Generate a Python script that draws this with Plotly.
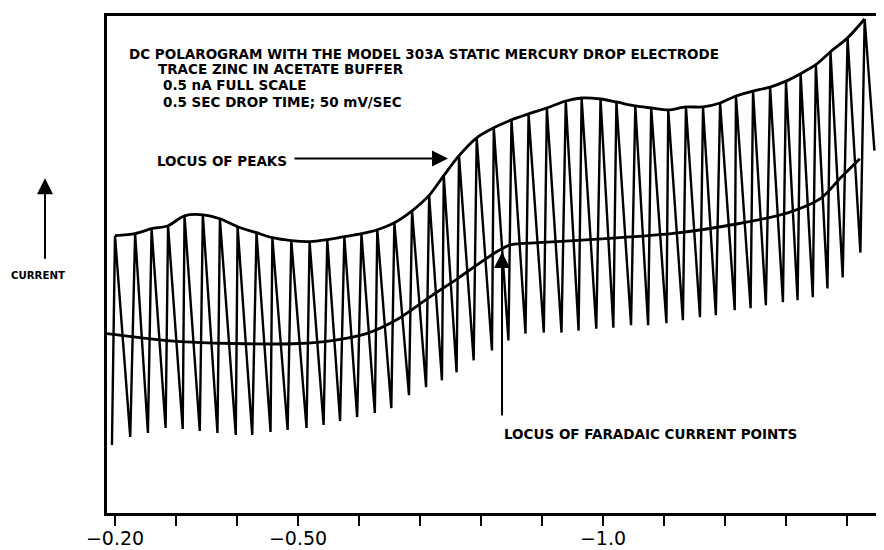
import plotly.graph_objects as go

# ---- data (potential in V, current in arbitrary units 0-100) ----
peak_E = [-0.200, -0.233, -0.260, -0.287, -0.314, -0.344, -0.372, -0.401, -0.432, -0.458,
          -0.489, -0.519, -0.548, -0.576, -0.604, -0.630, -0.658, -0.687, -0.715, -0.739,
          -0.764, -0.793, -0.821, -0.850, -0.878, -0.908, -0.939, -0.965, -0.996, -1.022,
          -1.053, -1.079, -1.107, -1.136, -1.164, -1.192, -1.218, -1.246, -1.274, -1.300,
          -1.324, -1.349, -1.373, -1.401, -1.429]
peak_I = [55.8, 56.2, 57.2, 57.8, 59.8, 60.0, 59.2, 57.6, 56.4, 55.4,
          54.8, 54.6, 55.0, 55.6, 56.2, 57.0, 58.4, 60.8, 63.9, 67.9,
          71.9, 75.5, 77.5, 79.1, 80.3, 81.5, 82.9, 83.5, 83.3, 82.7,
          81.9, 81.5, 81.1, 81.7, 81.7, 82.5, 83.9, 84.9, 85.7, 86.9,
          88.4, 90.2, 92.8, 95.6, 99.4]
base_E = [-0.195, -0.225, -0.254, -0.283, -0.311, -0.339, -0.368, -0.398, -0.425, -0.455,
          -0.483, -0.514, -0.542, -0.569, -0.597, -0.626, -0.653, -0.682, -0.710, -0.736,
          -0.760, -0.788, -0.818, -0.845, -0.873, -0.903, -0.932, -0.960, -0.989, -1.017,
          -1.046, -1.074, -1.104, -1.131, -1.159, -1.185, -1.216, -1.242, -1.267, -1.295,
          -1.319, -1.344, -1.368, -1.393, -1.422]
base_I = [13.7, 15.3, 16.1, 17.1, 16.9, 16.5, 16.1, 15.7, 15.7, 16.3,
          16.7, 17.1, 17.7, 18.5, 19.3, 20.1, 21.1, 23.7, 25.3, 26.7,
          28.3, 30.7, 32.7, 34.7, 36.1, 36.3, 36.3, 36.7, 37.1, 37.3,
          37.8, 37.8, 38.2, 38.8, 39.4, 39.8, 40.8, 41.2, 41.8, 42.4,
          42.8, 43.4, 45.2, 47.4, 52.4]
tail_E = [-1.445]
tail_I = [72.9]

far_E = [-0.187, -0.285, -0.393, -0.502, -0.556, -0.612, -0.666, -0.720, -0.760, -0.785,
         -0.829, -0.850, -0.894, -1.004, -1.112, -1.221, -1.303, -1.357, -1.390, -1.421]
far_I = [36.1, 34.7, 34.1, 34.1, 34.7, 36.1, 39.2, 43.8, 47.0, 49.2,
         52.8, 54.0, 54.4, 55.2, 56.2, 58.2, 60.4, 63.3, 67.5, 71.3]

tick_vals = [-0.2, -0.3, -0.4, -0.5, -0.6, -0.7, -0.8, -0.9, -1.0, -1.1, -1.2, -1.3, -1.4]
tick_text = ["\u22120.20", "", "", "\u22120.50", "", "", "", "", "\u22121.0", "", "", "", ""]

# ---- build the drop-by-drop trace: base -> peak -> next base ... ----
saw_x, saw_y = [], []
for be, bi, pe, pi in zip(base_E, base_I, peak_E, peak_I):
    saw_x += [be, pe]
    saw_y += [bi, pi]
saw_x += tail_E
saw_y += tail_I

fig = go.Figure()
fig.add_trace(go.Scatter(x=saw_x, y=saw_y, mode="lines",
                         line=dict(color="black", width=2.4), hoverinfo="skip"))
fig.add_trace(go.Scatter(x=peak_E, y=peak_I, mode="lines",
                         line=dict(color="black", width=2.8, shape="spline", smoothing=0.8),
                         hoverinfo="skip"))
fig.add_trace(go.Scatter(x=far_E, y=far_I, mode="lines",
                         line=dict(color="black", width=2.8, shape="spline", smoothing=0.8),
                         hoverinfo="skip"))

txt = dict(family="DejaVu Sans", size=13.5, color="black", weight="bold")
def note(text, x, y, size=13.5):
    f = dict(txt); f["size"] = size
    fig.add_annotation(text=text, x=x, y=y, xref="paper", yref="paper",
                       xanchor="left", yanchor="middle", showarrow=False, font=f)

note("DC POLAROGRAM WITH THE MODEL 303A STATIC MERCURY DROP ELECTRODE", 0.0260, 0.9238)
note("TRACE ZINC IN ACETATE BUFFER", 0.0634, 0.8938)
note("0.5 nA FULL SCALE", 0.0698, 0.8617)
note("0.5 SEC DROP TIME; 50 mV/SEC", 0.0698, 0.8277)
note("LOCUS OF PEAKS", 0.0621, 0.7074)
note("LOCUS OF FARADAIC CURRENT POINTS", 0.5087, 0.1583)
note("CURRENT", -0.1258, 0.4770, size=10.2)

def arrow(x, y, ax, ay):
    fig.add_annotation(text="", x=x, y=y, xref="paper", yref="paper", ax=ax, ay=ay,
                       showarrow=True, arrowhead=2, arrowsize=1.6, arrowwidth=2,
                       arrowcolor="black")

arrow(0.4389, 0.7134, -155, 0)
arrow(-0.0798, 0.6733, 0, 82)
arrow(0.5084, 0.5251, 0, 165)

# the page body adds an 8 px offset, so the figure is drawn 8 px smaller
fig.update_layout(
    width=876, height=542,
    margin=dict(l=99, r=0, t=8, b=37, autoexpand=False),
    paper_bgcolor="white", plot_bgcolor="white",
    showlegend=False,
    xaxis=dict(range=[-0.1869, -1.4607], showgrid=False, zeroline=False,
               showline=True, linecolor="black", linewidth=2.5, mirror=True,
               tickmode="array", tickvals=tick_vals, ticktext=tick_text,
               ticks="outside", ticklen=10, tickwidth=2, tickcolor="black",
               ticklabelstandoff=-4,
               tickfont=dict(family="DejaVu Sans", size=19, color="black"),
               automargin=False),
    yaxis=dict(range=[0, 100], showgrid=False, zeroline=False,
               showline=True, linecolor="black", linewidth=2.5,
               showticklabels=False, ticks="", automargin=False),
)

fig.write_html("out.html")
